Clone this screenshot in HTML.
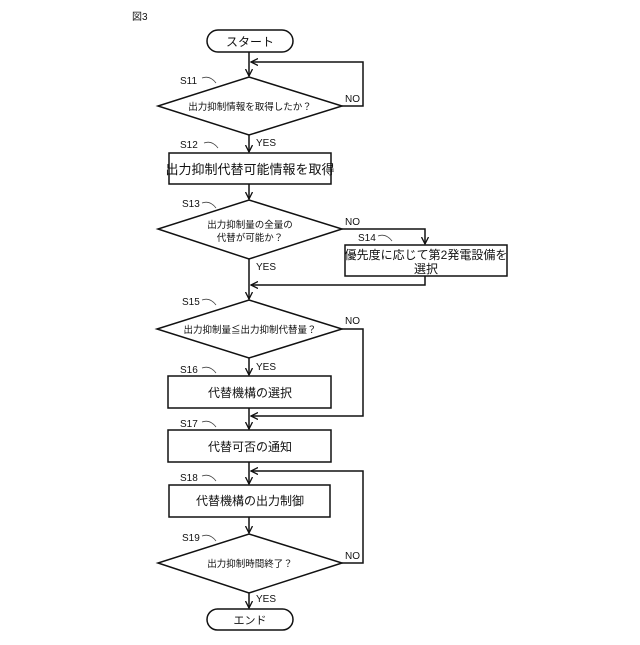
<!DOCTYPE html>
<html><head><meta charset="utf-8"><style>
body{margin:0;background:#fff}
svg text{font-family:"Liberation Sans","Noto Sans CJK JP",sans-serif;fill:#111}
</style></head><body>
<svg width="640" height="640" viewBox="0 0 640 640" xmlns="http://www.w3.org/2000/svg">
<defs><marker id="a" markerWidth="8" markerHeight="8" refX="7" refY="4" orient="auto" markerUnits="userSpaceOnUse"><path d="M0,0.5 L7,4 L0,7.5" fill="none" stroke="#111" stroke-width="1.3"/></marker></defs>
<g stroke="#111" stroke-width="1.5" fill="none">
<rect x="207" y="30" width="86" height="22" rx="11" fill="#fff"/>
<rect x="207" y="609" width="86" height="21" rx="10.5" fill="#fff"/>
<polygon points="249,77 342,106 249,135 158,106"/>
<rect x="169" y="153" width="162" height="31"/>
<polygon points="249,200 342,229 249,259 158,229"/>
<rect x="345" y="245" width="162" height="31"/>
<polygon points="249,300 342,329 249,358 157,329"/>
<rect x="168" y="376" width="163" height="32"/>
<rect x="168" y="430" width="163" height="32"/>
<rect x="169" y="485" width="161" height="32"/>
<polygon points="249,534 342,563 249,593 158,563"/>
<line x1="249" y1="52" x2="249" y2="76" marker-end="url(#a)"/>
<polyline points="342,106 363,106 363,62 251,62" marker-end="url(#a)"/>
<line x1="249" y1="135" x2="249" y2="152" marker-end="url(#a)"/>
<line x1="249" y1="184" x2="249" y2="199" marker-end="url(#a)"/>
<polyline points="342,229 425,229 425,244" marker-end="url(#a)"/>
<polyline points="425,276 425,285 251,285" marker-end="url(#a)"/>
<line x1="249" y1="259" x2="249" y2="299" marker-end="url(#a)"/>
<line x1="249" y1="358" x2="249" y2="375" marker-end="url(#a)"/>
<polyline points="342,329 363,329 363,416 251,416" marker-end="url(#a)"/>
<line x1="249" y1="408" x2="249" y2="429" marker-end="url(#a)"/>
<line x1="249" y1="462" x2="249" y2="484" marker-end="url(#a)"/>
<polyline points="342,563 363,563 363,471 251,471" marker-end="url(#a)"/>
<line x1="249" y1="517" x2="249" y2="533" marker-end="url(#a)"/>
<line x1="249" y1="593" x2="249" y2="608" marker-end="url(#a)"/>
</g>
<g stroke="#444" stroke-width="0.8" fill="none">
<path d="M202,78 q8,-3 14,5"/><path d="M204,143 q8,-3 14,5"/><path d="M202,203 q8,-3 14,5"/>
<path d="M378,236 q8,-3 14,5"/><path d="M202,300 q8,-3 14,5"/><path d="M202,368 q8,-3 14,5"/>
<path d="M202,422 q8,-3 14,5"/><path d="M202,476 q8,-3 14,5"/><path d="M202,536 q8,-3 14,5"/>
</g>
<g font-size="10">
<text x="132" y="20">図3</text>
<text x="180" y="84">S11</text><text x="180" y="148">S12</text><text x="182" y="207">S13</text>
<text x="358" y="241">S14</text><text x="182" y="305">S15</text><text x="180" y="373">S16</text>
<text x="180" y="427">S17</text><text x="180" y="481">S18</text><text x="182" y="541">S19</text>
<text x="345" y="102">NO</text><text x="256" y="146">YES</text>
<text x="345" y="225">NO</text><text x="256" y="270">YES</text>
<text x="345" y="324">NO</text><text x="256" y="370">YES</text>
<text x="345" y="559">NO</text><text x="256" y="602">YES</text>
</g>
<g text-anchor="middle">
<text x="250" y="46" font-size="12">スタート</text>
<text x="250" y="624" font-size="11">エンド</text>
<text x="250" y="110" font-size="9.5">出力抑制情報を取得したか？</text>
<text x="250" y="174" font-size="13">出力抑制代替可能情報を取得</text>
<text x="250" y="228" font-size="9.5">出力抑制量の全量の</text>
<text x="250" y="241" font-size="9.5">代替が可能か？</text>
<text x="426" y="259" font-size="12">優先度に応じて第2発電設備を</text>
<text x="426" y="273" font-size="12">選択</text>
<text x="250" y="333" font-size="9.5">出力抑制量≦出力抑制代替量？</text>
<text x="250" y="397" font-size="12">代替機構の選択</text>
<text x="250" y="451" font-size="12">代替可否の通知</text>
<text x="250" y="505" font-size="12">代替機構の出力制御</text>
<text x="250" y="567" font-size="9.5">出力抑制時間終了？</text>
</g>
</svg>
</body></html>
